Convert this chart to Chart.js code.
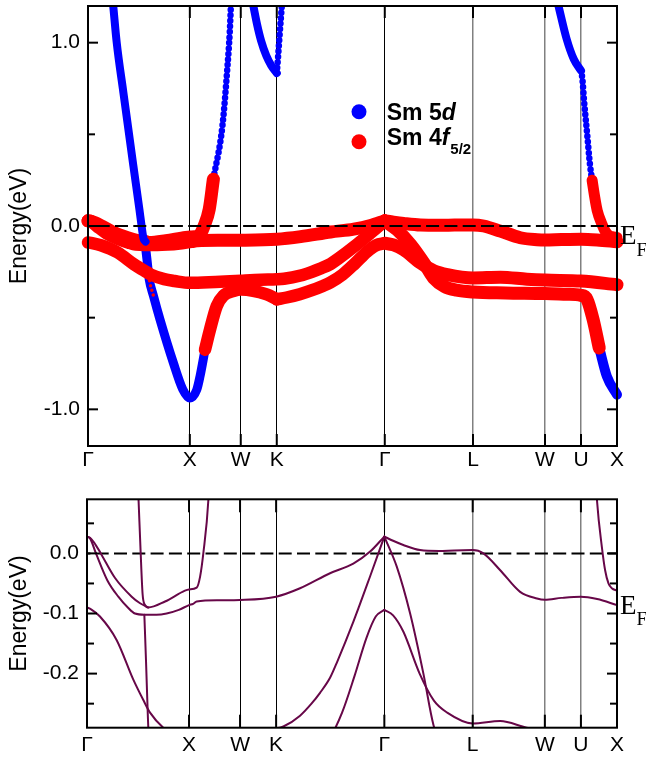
<!DOCTYPE html>
<html><head><meta charset="utf-8">
<script src="https://cdn.jsdelivr.net/npm/chart.js@4.4.1/dist/chart.umd.min.js"></script>
<style>
html,body{margin:0;padding:0;background:#fff;}
#wrap{position:relative;width:646px;height:757px;overflow:hidden;}
#top{position:absolute;left:0;top:0;}
#bot{position:absolute;left:0;top:478px;}
</style></head><body>
<div id="wrap">
<canvas id="top" width="646" height="478"></canvas>
<canvas id="bot" width="646" height="279"></canvas>
</div>
<script>
// ---- k-path (high-symmetry points) ----
const kLabels = ['Γ','X','W','K','Γ','L','W','U','X'];
const kTicks  = [0, 1, 1.5, 1.8536, 2.9142, 3.7802, 4.4873, 4.8409, 5.1945];

// ---- y ticks ----
const topYTicks  = [-1.0, -0.5, 0.0, 0.5, 1.0];
const topYLabels = ['-1.0', '', '0.0', '', '1.0'];
const botYTicks  = [-0.25, -0.2, -0.15, -0.1, -0.05, 0.0, 0.05];
const botYLabels = ['', '-0.2', '', '-0.1', '', '0.0', ''];

// ---- bands (k along path, energy in eV) ----
// Sm 5d band from above, kink at its minimum, rising after X
const bandA_k = [0.248,0.282,0.347,0.445,0.505,0.525,0.545,0.565,0.600,0.765,0.960,1.000,1.075,1.108,1.140,1.190,1.231,1.320,1.370,1.392,1.403];
const bandA_E = [1.200,1.000,0.730,0.330,0.090,0.005,-0.068,-0.085,-0.090,-0.080,-0.062,-0.060,-0.057,-0.039,0.000,0.090,0.255,0.546,0.874,1.057,1.200];
// lower d band through the X minimum, becoming 4f toward W and K
const bandB_k = [0.562,0.578,0.591,0.601,0.642,0.707,0.838,0.930,1.000,1.068,1.100,1.149,1.198,1.264,1.330,1.427,1.500,1.755,1.854];
const bandB_E = [-0.102,-0.177,-0.244,-0.290,-0.380,-0.510,-0.746,-0.890,-0.938,-0.893,-0.820,-0.675,-0.565,-0.437,-0.380,-0.355,-0.346,-0.373,-0.400];
// K -> Gamma, rising to the lower Gamma peak
const bandC_k = [1.854,1.950,2.080,2.200,2.300,2.380,2.500,2.620,2.740,2.830,2.914];
const bandC_E = [-0.400,-0.390,-0.372,-0.350,-0.328,-0.308,-0.265,-0.205,-0.140,-0.105,-0.094];
// Gamma -> L -> W -> U -> X, lower peak branch
const bandD_k = [2.914,3.000,3.100,3.260,3.400,3.530,3.780,4.050,4.310,4.487,4.841,5.1945];
const bandD_E = [-0.094,-0.103,-0.130,-0.200,-0.245,-0.265,-0.283,-0.279,-0.290,-0.295,-0.300,-0.320];
// 4f band from Gamma (-0.09) through X and K up to Gamma
const bandE_k = [0,0.040,0.127,0.290,0.454,0.552,0.618,0.748,0.850,1.000,1.250,1.500,1.700,1.854,1.925,2.088,2.200,2.284,2.382,2.448,2.610,2.775,2.914];
const bandE_E = [-0.090,-0.093,-0.105,-0.144,-0.210,-0.244,-0.265,-0.290,-0.300,-0.310,-0.305,-0.298,-0.293,-0.291,-0.288,-0.270,-0.250,-0.232,-0.207,-0.182,-0.114,-0.038,0.028];
// Gamma -> X, steep branch then drop near X
const bandF_k = [2.914,3.036,3.167,3.297,3.395,3.500,3.620,3.780,4.100,4.487,4.700,4.841,4.900,4.960,5.020,5.095,5.1945];
const bandF_E = [0.028,-0.022,-0.100,-0.200,-0.285,-0.330,-0.350,-0.360,-0.365,-0.368,-0.372,-0.378,-0.400,-0.510,-0.665,-0.820,-0.920];
// 4f bands near E_F
const bandG_k = [0,0.030,0.070,0.135,0.275,0.438,0.520,0.600];
const bandG_E = [0.028,0.026,0.018,0.000,-0.041,-0.072,-0.083,-0.090];
const bandH_k = [0,0.030,0.088,0.200,0.307,0.400,0.470,0.562,0.680,0.780,0.900,1.000,1.040,1.075,1.300,1.500,1.854,2.088,2.382,2.610,2.775,2.914];
const bandH_E = [0.028,0.025,0.000,-0.045,-0.072,-0.090,-0.100,-0.102,-0.102,-0.100,-0.094,-0.086,-0.084,-0.080,-0.078,-0.0775,-0.072,-0.058,-0.033,-0.017,0.003,0.028];
const bandI_k = [2.914,3.000,3.100,3.265,3.450,3.600,3.780,3.885,4.050,4.245,4.410,4.487,4.650,4.841,5.000,5.1945];
const bandI_E = [0.028,0.021,0.014,0.0055,0.004,0.005,0.0055,0.000,-0.028,-0.064,-0.075,-0.077,-0.074,-0.072,-0.076,-0.086];
// d band dropping between U and X
const bandJ_k = [4.620,4.700,4.770,4.841,4.855,4.870,4.900,4.930,4.950,4.975,5.000,5.046,5.078,5.111,5.144,5.1945];
const bandJ_E = [1.200,1.020,0.910,0.847,0.800,0.690,0.510,0.330,0.250,0.160,0.085,0.011,-0.028,-0.050,-0.058,-0.062];
// d band dip at K
const bandK_k = [1.624,1.660,1.700,1.750,1.800,1.854];
const bandK_E = [1.200,1.100,1.010,0.930,0.875,0.834];
const bandL_k = [1.854,1.866,1.880,1.903];
const bandL_E = [0.834,0.920,1.030,1.200];

const BLUE = '#0000ff', RED = '#ff0000', MAROON = 'rgb(103,7,72)';
const FONT = '"Liberation Sans", Arial, Helvetica, sans-serif';
const SERIF = '"Liberation Serif", "Times New Roman", serif';

function seg(k, e, i0, i1) { const a = []; for (let i = i0; i <= i1; i++) a.push({x: k[i], y: e[i]}); return a; }
const last = a => a.length - 1;
function fat(k, e, i0, i1, color, w, dotted) {
  return {data: seg(k, e, i0, i1), showLine: true, borderColor: color, borderWidth: w,
    borderDash: dotted ? [0, dotted] : [], borderCapStyle: 'round', borderJoinStyle: 'round',
    cubicInterpolationMode: 'monotone', pointRadius: 0, clip: {left: 8, right: 8, top: 0, bottom: 0}};
}
function thin(k, e) {
  return {data: seg(k, e, 0, last(k)), showLine: true, borderColor: MAROON, borderWidth: 2,
    borderCapStyle: 'round', borderJoinStyle: 'round',
    cubicInterpolationMode: 'monotone', pointRadius: 0, clip: {left: 1, right: 1, top: 0, bottom: 0}};
}
function zeroLine() {
  return {data: [{x: kTicks[0], y: 0}, {x: kTicks[last(kTicks)], y: 0}], showLine: true,
    borderColor: '#000', borderWidth: 2, borderDash: [13, 5.3], borderDashOffset: 9.6,
    pointRadius: 0, clip: 0};
}

const topSets = [
  fat(bandB_k, bandB_E, 0, 11, BLUE, 9),
  fat(bandK_k, bandK_E, 0, last(bandK_k), BLUE, 8),
  fat(bandL_k, bandL_E, 0, last(bandL_k), BLUE, 6.5, 5.5),
  fat(bandJ_k, bandJ_E, 0, 3, BLUE, 8),
  fat(bandJ_k, bandJ_E, 3, 8, BLUE, 6.5, 5.5),
  fat(bandF_k, bandF_E, 14, last(bandF_k), BLUE, 10),
  fat(bandA_k, bandA_E, 16, last(bandA_k), BLUE, 6.5, 5.5),
  fat(bandH_k, bandH_E, 0, last(bandH_k), RED, 13),
  fat(bandG_k, bandG_E, 0, last(bandG_k), RED, 13),
  fat(bandI_k, bandI_E, 0, last(bandI_k), RED, 13),
  fat(bandA_k, bandA_E, 7, 16, RED, 13),
  fat(bandA_k, bandA_E, 0, 7, BLUE, 8),
  fat(bandE_k, bandE_E, 0, last(bandE_k), RED, 12.5),
  fat(bandB_k, bandB_E, 11, last(bandB_k), RED, 12.5),
  fat(bandC_k, bandC_E, 0, last(bandC_k), RED, 12.5),
  fat(bandD_k, bandD_E, 0, last(bandD_k), RED, 13),
  fat(bandF_k, bandF_E, 0, 14, RED, 13),
  fat(bandJ_k, bandJ_E, 8, last(bandJ_k), RED, 11),
  fat(bandB_k, bandB_E, 2, 4, RED, 3.5, 5),
  zeroLine()
];
topSets.forEach((d, i) => d.order = topSets.length - i);

const botSets = [
  thin(bandA_k, bandA_E), thin(bandB_k, bandB_E), thin(bandC_k, bandC_E), thin(bandD_k, bandD_E),
  thin(bandE_k, bandE_E), thin(bandF_k, bandF_E), thin(bandG_k, bandG_E), thin(bandH_k, bandH_E),
  thin(bandI_k, bandI_E), thin(bandJ_k, bandJ_E), thin(bandK_k, bandK_E), thin(bandL_k, bandL_E),
  zeroLine()
];

const framePlugin = {
  id: 'bandFrame',
  afterDatasetsDraw(chart, args, o) {
    const {ctx, chartArea: a, scales: {x, y}} = chart;
    ctx.save();
    ctx.setLineDash([]);
    ctx.strokeStyle = '#000'; ctx.lineWidth = 2;
    ctx.strokeRect(a.left, a.top, a.right - a.left, a.bottom - a.top);
    const ln = (x1, y1, x2, y2) => { ctx.beginPath(); ctx.moveTo(x1, y1); ctx.lineTo(x2, y2); ctx.stroke(); };
    o.yMajor.forEach(v => { const p = y.getPixelForValue(v); ln(a.left, p, a.left + 10, p); ln(a.right, p, a.right - 10, p); });
    o.yMinor.forEach(v => { const p = y.getPixelForValue(v); ln(a.left, p, a.left + 7, p); ln(a.right, p, a.right - 7, p); });
    kTicks.forEach(v => { const p = x.getPixelForValue(v); ln(p, a.bottom, p, a.bottom - o.xTick); ln(p, a.top, p, a.top + o.xTick); });
    // E_F label
    const yb = y.getPixelForValue(-0.1);
    ctx.fillStyle = '#000'; ctx.textBaseline = 'alphabetic'; ctx.textAlign = 'left';
    ctx.font = '27px ' + SERIF;
    ctx.fillText('E', a.right + 3, yb);
    const wE = ctx.measureText('E').width;
    ctx.font = '19px ' + SERIF;
    ctx.fillText('F', a.right + 3 + wE, yb + 11.7);
    if (o.legend) {
      const lx = 359, ly1 = 111.7, ly2 = 141.7, tx = 386.7;
      ctx.fillStyle = BLUE; ctx.beginPath(); ctx.arc(lx, ly1, 7.5, 0, Math.PI * 2); ctx.fill();
      ctx.fillStyle = RED; ctx.beginPath(); ctx.arc(lx, ly2, 7.5, 0, Math.PI * 2); ctx.fill();
      ctx.fillStyle = '#000';
      let xx = tx;
      ctx.font = 'bold 23px ' + FONT; ctx.fillText('Sm 5', xx, 120); xx += ctx.measureText('Sm 5').width;
      ctx.font = 'italic bold 23px ' + FONT; ctx.fillText('d', xx, 120);
      xx = tx;
      ctx.font = 'bold 23px ' + FONT; ctx.fillText('Sm 4', xx, 145); xx += ctx.measureText('Sm 4').width;
      ctx.font = 'italic bold 23px ' + FONT; ctx.fillText('f', xx, 145); xx += ctx.measureText('f').width + 1;
      ctx.font = 'bold 15px ' + FONT; ctx.fillText('5/2', xx, 154);
    }
    ctx.restore();
  }
};

function makeChart(id, sets, cfg) {
  return new Chart(document.getElementById(id), {
    type: 'scatter',
    data: {datasets: sets},
    options: {
      responsive: false, animation: false, events: [], devicePixelRatio: 1,
      layout: {padding: {left: 0, right: 29, top: cfg.areaTop, bottom: 0}},
      elements: {point: {radius: 0}, line: {capBezierPoints: false}},
      plugins: {legend: {display: false}, tooltip: {enabled: false},
        bandFrame: {yMajor: cfg.yMajor, yMinor: cfg.yMinor, xTick: cfg.xTick, legend: cfg.legend}},
      scales: {
        x: {
          type: 'linear', min: kTicks[0], max: kTicks[last(kTicks)],
          afterBuildTicks: s => { s.ticks = kTicks.map(v => ({value: v})); },
          afterFit: s => { s.height = cfg.xH; s.paddingLeft = 0; s.paddingRight = 0; },
          ticks: {autoSkip: false, maxRotation: 0, minRotation: 0, padding: cfg.xPad, color: '#000',
            font: {family: FONT, size: 21}, callback: (v, i) => kLabels[i]},
          grid: {drawTicks: false,
            color: c => (c.index >= 5 && c.index <= 7) ? '#808080' : '#000',
            lineWidth: c => (c.index >= 5 && c.index <= 7) ? 1.5 : 1},
          border: {display: false}
        },
        y: {
          type: 'linear', min: cfg.yMin, max: cfg.yMax,
          afterBuildTicks: s => { s.ticks = cfg.yTicks.map(v => ({value: v})); },
          afterFit: s => { s.width = cfg.yW; s.paddingTop = 0; s.paddingBottom = 0; },
          ticks: {padding: 8, color: '#000', font: {family: FONT, size: 21}, callback: (v, i) => cfg.yLabels[i]},
          grid: {display: false, drawTicks: false},
          border: {display: false},
          title: {display: true, text: 'Energy(eV)', color: '#000', font: {family: FONT, size: 23}, padding: {top: 6, bottom: 0}}
        }
      }
    },
    plugins: [framePlugin]
  });
}

makeChart('top', topSets, {areaTop: 6, xH: 32, xPad: 2, yW: 88, yMin: -1.2, yMax: 1.2,
  yTicks: topYTicks, yLabels: topYLabels, yMajor: [-1, 0, 1], yMinor: [-0.5, 0.5], xTick: 12, legend: true});
makeChart('bot', botSets, {areaTop: 21.3, xH: 29.3, xPad: 5, yW: 87, yMin: -0.29, yMax: 0.09,
  yTicks: botYTicks, yLabels: botYLabels, yMajor: [-0.2, -0.1, 0], yMinor: [-0.25, -0.15, -0.05, 0.05], xTick: 13, legend: false});
</script>
</body></html>
